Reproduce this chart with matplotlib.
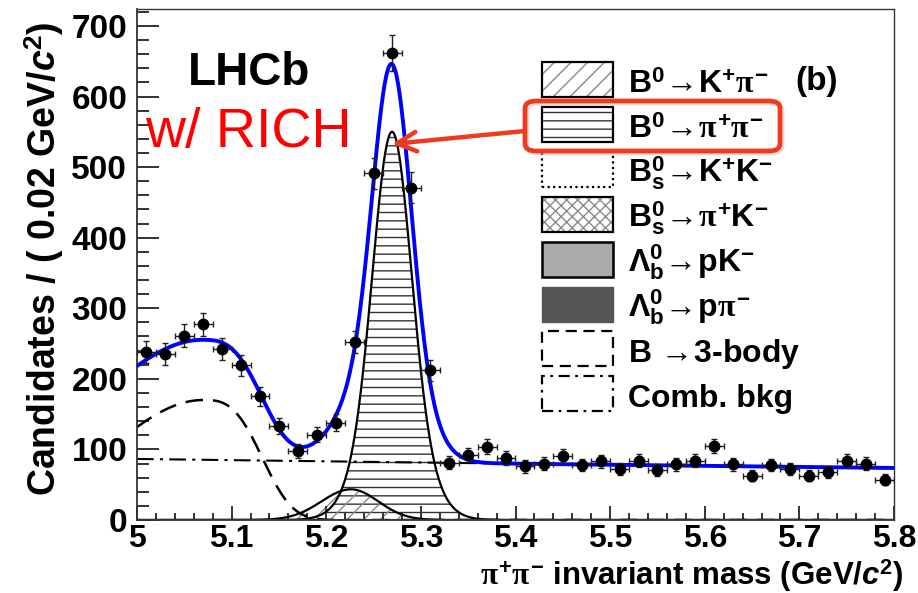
import numpy as np
import matplotlib
matplotlib.use("Agg")
import matplotlib.pyplot as plt
from matplotlib.patches import Rectangle, FancyBboxPatch

plt.rcParams['font.family'] = ['Liberation Sans', 'DejaVu Sans']
plt.rcParams['font.weight'] = 'bold'
plt.rcParams['mathtext.fontset'] = 'custom'
plt.rcParams['mathtext.rm'] = 'Liberation Sans:bold'
plt.rcParams['mathtext.bf'] = 'Liberation Sans:bold'
plt.rcParams['mathtext.it'] = 'Liberation Serif'
plt.rcParams['mathtext.sf'] = 'Liberation Sans:italic:bold'
plt.rcParams['hatch.linewidth'] = 1.0

# ---------------- data ----------------
bin_centers = [5.01, 5.03, 5.05, 5.07, 5.09, 5.11, 5.13, 5.15, 5.17, 5.19,
               5.21, 5.23, 5.25, 5.27, 5.29, 5.31, 5.33, 5.35, 5.37, 5.39,
               5.41, 5.43, 5.45, 5.47, 5.49, 5.51, 5.53, 5.55, 5.57, 5.59,
               5.61, 5.63, 5.65, 5.67, 5.69, 5.71, 5.73, 5.75, 5.77, 5.79]
counts = [238, 235, 261, 277, 242, 219, 175, 133, 98, 121,
          138, 252, 491, 662, 471, 212, 81, 92, 104, 88,
          76, 80, 91, 78, 83, 72, 84, 71, 79, 84,
          105, 79, 63, 78, 72, 63, 68, 84, 80, 57]
bin_half_width = 0.01

# fit-model parameters
comb_norm, comb_slope = 86.5, -0.2
threebody_peak, threebody_mean, threebody_sig_left, threebody_sig_right, threebody_power = 170.0, 5.07, 0.098, 0.057, 3.0
kpi_peak, kpi_mean, kpi_sig_left, kpi_sig_right = 43.5, 5.226, 0.031, 0.029
pipi_peak, pipi_mean, pipi_sig_core, pipi_sig_wide, pipi_frac_core = 550.0, 5.2695, 0.0195, 0.030, 0.7

legend_labels = [r"$\mathrm{B}^{0}\!\rightarrow\!\mathrm{K}^{+}\pi^{-}$",
                 r"$\mathrm{B}^{0}\!\rightarrow\!\pi^{+}\pi^{-}$",
                 r"$\mathrm{B}_{\mathrm{s}}^{0}\!\rightarrow\!\mathrm{K}^{+}\mathrm{K}^{-}$",
                 r"$\mathrm{B}_{\mathrm{s}}^{0}\!\rightarrow\!\pi^{+}\mathrm{K}^{-}$",
                 r"$\Lambda_{\mathrm{b}}^{0}\!\rightarrow\!\mathrm{pK}^{-}$",
                 r"$\Lambda_{\mathrm{b}}^{0}\!\rightarrow\!\mathrm{p}\pi^{-}$",
                 r"B $\!\rightarrow\!$3-body",
                 "Comb. bkg"]

x_ticks = [5.0, 5.1, 5.2, 5.3, 5.4, 5.5, 5.6, 5.7, 5.8]
x_tick_labels = ["5", "5.1", "5.2", "5.3", "5.4", "5.5", "5.6", "5.7", "5.8"]
y_ticks = [0, 100, 200, 300, 400, 500, 600, 700]

# ---------------- model curves ----------------
m = np.linspace(5.0, 5.8, 1601)
comb = comb_norm * np.exp(comb_slope * (m - 5.0))
d3 = m - threebody_mean
threebody = np.where(d3 < 0,
                     threebody_peak * np.exp(-0.5 * (d3 / threebody_sig_left) ** 2),
                     threebody_peak * np.exp(-0.5 * np.abs(d3 / threebody_sig_right) ** threebody_power))
dk = m - kpi_mean
kpi = kpi_peak * np.exp(-0.5 * (dk / np.where(dk < 0, kpi_sig_left, kpi_sig_right)) ** 2)
dp = m - pipi_mean
pipi = pipi_peak * (pipi_frac_core * np.exp(-0.5 * (dp / pipi_sig_core) ** 2)
                    + (1 - pipi_frac_core) * np.exp(-0.5 * (dp / pipi_sig_wide) ** 2))
total = comb + threebody + kpi + pipi

# ---------------- figure ----------------
W, H = 918, 593
fig = plt.figure(figsize=(W / 100, H / 100), dpi=100)
ax = fig.add_axes([137 / W, 1 - 520 / H, (894 - 137) / W, (520 - 9) / H])
ax.set_xlim(5.0, 5.8)
ax.set_ylim(0, 724)

# filled components
ax.fill_between(m, 0, pipi, facecolor='none', edgecolor='#333333', hatch='--', linewidth=0, zorder=1)
ax.fill_between(m, 0, kpi, facecolor='none', edgecolor='#8a8a8a', hatch='//', linewidth=0, zorder=1)
ax.plot(m, pipi, color='black', lw=1.6, zorder=2)
ax.plot(m, kpi, color='black', lw=1.6, zorder=2)
ax.plot(m, threebody, color='black', lw=1.8, dashes=(7, 4), zorder=2)
ax.plot(m, comb, color='black', lw=1.5, dashes=(8, 3, 1.5, 3), zorder=2)
ax.axhline(0, color='#4a3ac0', lw=2.0, zorder=2)
ax.plot(m, total, color='#0000ff', lw=2.8, zorder=3)

cnt = np.array(counts, dtype=float)
ax.errorbar(bin_centers, cnt, yerr=np.sqrt(cnt), xerr=bin_half_width, fmt='o', color='black',
            ms=7.5, ecolor='#222222', elinewidth=1.0, capsize=2.2, capthick=1.0, zorder=4)

# axes style
for s in ['top', 'right']:
    ax.spines[s].set_visible(True)
    ax.spines[s].set_color('#333333')
    ax.spines[s].set_linewidth(1.0)
for s in ['left', 'bottom']:
    ax.spines[s].set_color('#333333')
    ax.spines[s].set_linewidth(1.3)
ax.set_xticks(x_ticks)
ax.set_xticklabels(x_tick_labels)
ax.set_yticks(y_ticks)
ax.set_xticks(np.arange(5.0, 5.8001, 0.02), minor=True)
ax.set_yticks(np.arange(0, 724, 20), minor=True)
ax.tick_params(axis='y', which='major', direction='in', length=16, width=1.4, color='#333333',
               labelsize=24, pad=7)
ax.tick_params(axis='y', which='minor', direction='in', length=8.5, width=1.4, color='#333333')
ax.tick_params(axis='x', which='major', direction='in', length=10, width=1.4, color='#333333',
               labelsize=23, pad=3)
ax.tick_params(axis='x', which='minor', direction='in', length=5, width=1.4, color='#333333')
ax.tick_params(top=False, right=False)

def fx(px):
    return px / W

def fy(py):
    return 1 - py / H

fig.text(fx(903), fy(585), r"$\pi^{+}\pi^{-}$ invariant mass (GeV/$\mathsf{c}^{2}$)",
         ha='right', va='baseline', fontsize=22.5, fontweight='bold')
fig.text(fx(44), fy(22), r"Candidates / ( 0.02 GeV/$\mathsf{c}^{2}$)", rotation=90,
         ha='center', va='top', fontsize=27, fontweight='bold')

fig.text(fx(188), fy(85), "LHCb", ha='left', va='baseline', fontsize=33, fontweight='bold')
fig.text(fx(145), fy(147), "w/ RICH", ha='left', va='baseline', fontsize=40, fontweight='normal',
         color='#ff0000')
fig.text(fx(795), fy(90), "(b)", ha='left', va='baseline', fontsize=24, fontweight='bold')

# legend (drawn by hand, ROOT style)
box_x0, box_w, box_h = 542, 71, 35
row_top0, row_pitch = 62, 44.9
for i, lab in enumerate(legend_labels):
    top = row_top0 + i * row_pitch
    xy = (fx(box_x0), fy(top + box_h))
    wh = (box_w / W, box_h / H)
    if i == 0:
        fig.add_artist(Rectangle(xy, *wh, transform=fig.transFigure, facecolor='white',
                                 edgecolor='#8a8a8a', hatch='//', lw=0))
        fig.add_artist(Rectangle(xy, *wh, transform=fig.transFigure, fill=False, edgecolor='black', lw=1.6))
    elif i == 1:
        fig.add_artist(Rectangle(xy, *wh, transform=fig.transFigure, facecolor='white',
                                 edgecolor='#333333', hatch='--', lw=0))
        fig.add_artist(Rectangle(xy, *wh, transform=fig.transFigure, fill=False, edgecolor='black', lw=1.6))
    elif i == 2:
        fig.add_artist(Rectangle(xy, *wh, transform=fig.transFigure, fill=False, edgecolor='black',
                                 lw=1.6, linestyle=(0, (1, 1.5))))
    elif i == 3:
        fig.add_artist(Rectangle(xy, *wh, transform=fig.transFigure, facecolor='white',
                                 edgecolor='#8a8a8a', hatch='xxx', lw=0))
        fig.add_artist(Rectangle(xy, *wh, transform=fig.transFigure, fill=False, edgecolor='black', lw=1.6))
    elif i == 4:
        fig.add_artist(Rectangle(xy, *wh, transform=fig.transFigure, facecolor='#aaaaaa',
                                 edgecolor='black', lw=1.8))
    elif i == 5:
        fig.add_artist(Rectangle(xy, *wh, transform=fig.transFigure, facecolor='#555555',
                                 edgecolor='#555555', lw=1.0))
    elif i == 6:
        fig.add_artist(Rectangle(xy, *wh, transform=fig.transFigure, fill=False, edgecolor='black',
                                 lw=1.6, linestyle=(0, (5, 3))))
    else:
        fig.add_artist(Rectangle(xy, *wh, transform=fig.transFigure, fill=False, edgecolor='black',
                                 lw=1.6, linestyle=(0, (5, 2.5, 1.2, 2.5))))
    fig.text(fx(628), fy(top + 31), lab, ha='left', va='baseline', fontsize=23, fontweight='bold')

# red highlight box + arrow
red = '#f03a1e'
fig.add_artist(FancyBboxPatch((fx(527), fy(153)), (782 - 527) / W, (153 - 103) / H,
                              boxstyle='round,pad=0,rounding_size=0.012', transform=fig.transFigure,
                              fill=False, edgecolor='#bbbbbb', lw=3.5, alpha=0.5))
fig.add_artist(FancyBboxPatch((fx(525), fy(151)), (782 - 527) / W, (153 - 103) / H,
                              boxstyle='round,pad=0,rounding_size=0.012', transform=fig.transFigure,
                              fill=False, edgecolor=red, lw=3.4))
ax.annotate('', xy=(fx(392), fy(144)), xycoords='figure fraction',
            xytext=(fx(525), fy(131)), textcoords='figure fraction',
            arrowprops=dict(arrowstyle='->,head_length=0.7,head_width=0.35', lw=3.2, color=red,
                            shrinkA=0, shrinkB=0, mutation_scale=20))

fig.savefig('out.png', dpi=100)
